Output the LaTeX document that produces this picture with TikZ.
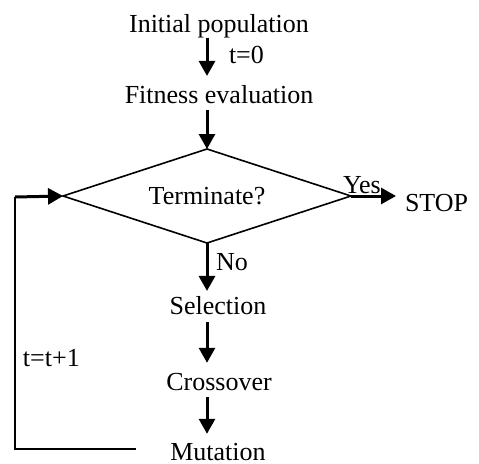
\documentclass[tikz,border=0pt]{standalone}
\usepackage{fontspec}
\setmainfont{Liberation Serif}
\usetikzlibrary{arrows.meta,shapes.geometric}
\begin{document}
\begin{tikzpicture}[x=1pt,y=-1pt,
  lbl/.style={inner sep=0pt,outer sep=0pt,font=\fontsize{26pt}{30pt}\selectfont},
  flow/.style={line width=3pt,-{Triangle[length=15pt,width=16pt]}},
  thinline/.style={line width=1.6pt},
  decision/.style={diamond,draw,line width=1.6pt,inner sep=0pt,outer sep=0pt,
    aspect=3.06,minimum width=288pt,minimum height=94pt,
    font=\fontsize{26pt}{30pt}\selectfont}]
  \useasboundingbox (0,0) rectangle (479,463);

  % main sequence of steps
  \node[lbl,anchor=base] (init) at (219,32) {Initial population};
  \node[lbl,anchor=base] (fit)  at (219,103) {Fitness evaluation};
  \node[decision] (dia) at (207,196) {Terminate?};
  \node[lbl,anchor=base west] (stop) at (405,211) {STOP};
  \node[lbl,anchor=base] (sel) at (218,314) {Selection};
  \node[lbl,anchor=base] (cro) at (219,390) {Crossover};
  \node[lbl,anchor=base] (mut) at (218,460) {Mutation};

  % edge labels
  \node[lbl,anchor=base west] (t0)  at (229,63)  {t=0};
  \node[lbl,anchor=base west] (yes) at (343,193) {Yes};
  \node[lbl,anchor=base west] (no)  at (216,270) {No};
  \node[lbl,anchor=base west] (inc) at (23,366)  {t=t+1};

  % loop back corners
  \coordinate (loopstart) at (136,449);
  \coordinate (loopcorner) at (15,449);
  \coordinate (looptop) at (15,197);

  % arrows between steps
  \draw[flow,shorten >=9pt] (init.south -| dia.north) -- (fit.north -| dia.north);
  \draw[flow,shorten <=7pt] (fit.south -| dia.north) -- (dia.north);
  \draw[flow,shorten >=5pt] (dia.south) -- (sel.north -| dia.south);
  \draw[flow,shorten <=8pt,shorten >=10pt] (sel.south -| dia.south) -- (cro.north -| dia.south);
  \draw[flow,shorten <=7pt,shorten >=9pt] (cro.south -| dia.south) -- (mut.north -| dia.south);
  \draw[flow,shorten >=9pt] (dia.east) -- (dia.east -| stop.west);

  % feedback loop
  \draw[thinline] (loopstart) -- (loopcorner) -- (looptop);
  \draw[flow] (looptop) -- (dia.west);
\end{tikzpicture}
\end{document}
